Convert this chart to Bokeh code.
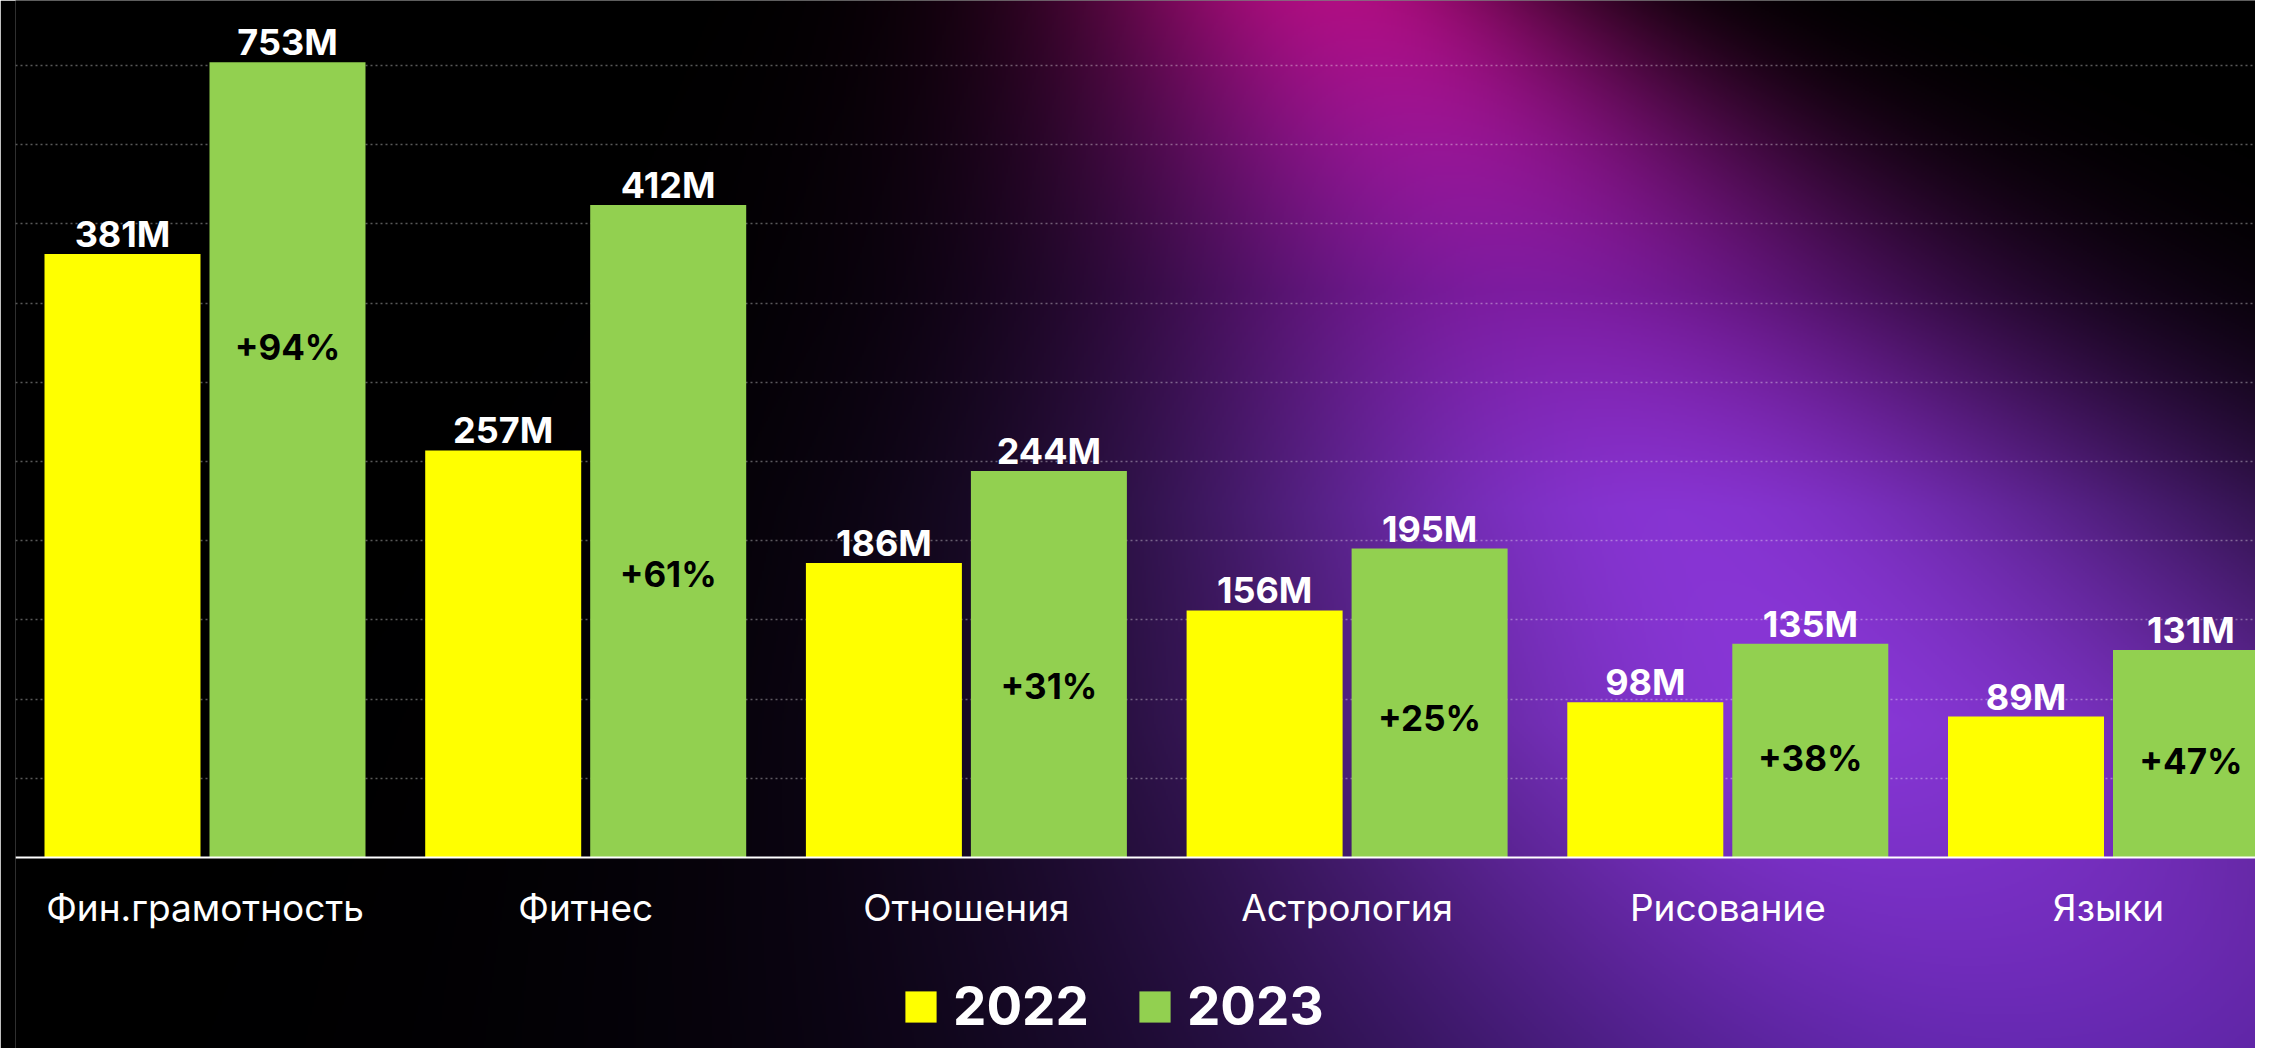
import numpy as np
from bokeh.plotting import figure
from bokeh.models import (ColumnDataSource, Range1d, LinearAxis, FixedTicker, Grid,
                          Legend, LegendItem)
from bokeh.transform import dodge
from bokeh.core.properties import value
from bokeh.embed import file_html
from bokeh.resources import INLINE

# ---------------- data ----------------
categories = ["Фин.грамотность", "Фитнес", "Отношения", "Астрология", "Рисование", "Языки"]
values_2022 = [381, 257, 186, 156, 98, 89]
values_2023 = [753, 412, 244, 195, 135, 131]
growth_pct = [94, 61, 31, 25, 38, 47]
series_names = ["2022", "2023"]
grid_ticks = [50, 100, 150, 200, 250, 300, 350, 400, 450, 500]

# ---------------- layout / style ----------------
FIG_W, FIG_H = 2255, 1048
FRAME_LEFT = 15          # px
BASELINE = 857           # px of value 0
PX_PER_UNIT = 1.584      # px per 1M
CAT_PITCH = 380.7        # px per category
FIRST_CENTER = 204.5     # px of first category centre
Y_CAP = 502              # axis top: taller bars are cut off here
OFF = 82.5 / CAT_PITCH
BAR_W = 156 / CAT_PITCH
YELLOW = "#FFFF00"
GREEN = "#92D050"
FONT = "Inter"

x_start = (FRAME_LEFT - FIRST_CENTER) / CAT_PITCH
x_end = (FIG_W - FIRST_CENTER) / CAT_PITCH
y_start = -(FIG_H - BASELINE) / PX_PER_UNIT
y_end = BASELINE / PX_PER_UNIT


def background(W, H):
    X = FRAME_LEFT + (np.arange(W) + 0.5) * ((FIG_W - FRAME_LEFT) / W)
    Y = FIG_H - (np.arange(H) + 0.5) * (FIG_H / H)   # row 0 = bottom
    XX, YY = np.meshgrid(X, Y)
    cx = 1340 + 0.65 * YY
    dx = XX - cx
    sl = 275 + 0.5 * YY
    sr = 250 + 0.7 * YY
    s = np.where(dx < 0, sl, sr)
    w = np.exp(-(dx / s) ** 2)
    ys = [0, 150, 290, 507, 724, 941, 1064]
    r = np.interp(YY, ys, [175, 150, 125, 135, 136, 115, 100])
    g = np.interp(YY, ys, [14, 22, 28, 52, 55, 45, 40])
    b = np.interp(YY, ys, [130, 150, 160, 210, 215, 190, 175])
    img = np.empty((H, W), dtype=np.uint32)
    view = img.view(dtype=np.uint8).reshape((H, W, 4))
    view[:, :, 0] = np.clip(r * w, 0, 255).astype(np.uint8)
    view[:, :, 1] = np.clip(g * w, 0, 255).astype(np.uint8)
    view[:, :, 2] = np.clip(b * w, 0, 255).astype(np.uint8)
    view[:, :, 3] = 255
    return img


idx = list(range(len(categories)))
src = ColumnDataSource(dict(
    x=idx,
    top22=np.minimum(values_2022, Y_CAP),
    top23=np.minimum(values_2023, Y_CAP),
    lab22=[f"{v}M" for v in values_2022],
    lab23=[f"{v}M" for v in values_2023],
    pct=[f"+{v}%" for v in growth_pct],
    pct_y=[0.42 * v + 6 for v in values_2023],
))

p = figure(width=FIG_W, height=FIG_H,
           x_range=Range1d(x_start, x_end), y_range=Range1d(y_start, y_end),
           output_backend="svg", toolbar_location=None,
           x_axis_location=None, y_axis_location=None,
           min_border_left=FRAME_LEFT, min_border_right=0,
           min_border_top=0, min_border_bottom=0,
           border_fill_color="black", background_fill_color="black",
           outline_line_color=None)
# drop default grids
p.center = [r for r in p.center if not isinstance(r, Grid)]

p.image_rgba(image=[background(1120, 524)], x=x_start, y=y_start,
             dw=x_end - x_start, dh=y_end - y_start, level="image")

grid = Grid(dimension=1, ticker=FixedTicker(ticks=grid_ticks),
            grid_line_color="white", grid_line_alpha=0.35,
            grid_line_dash="2 3", grid_line_width=1.5)
p.add_layout(grid)

r22 = p.vbar(x=dodge("x", -OFF), top="top22", width=BAR_W, source=src,
             fill_color=YELLOW, line_color=None)
r23 = p.vbar(x=dodge("x", OFF), top="top23", width=BAR_W, source=src,
             fill_color=GREEN, line_color=None)

for col, lab, dd in (("top22", "lab22", -OFF), ("top23", "lab23", OFF)):
    p.text(x=dodge("x", dd), y=col, text=lab, source=src,
           text_align="center", text_baseline="alphabetic", y_offset=-20,
           text_color="white", text_font=value(FONT), text_font_style="bold",
           text_font_size="36px")
p.text(x=dodge("x", OFF), y="pct_y", text="pct", source=src,
       text_align="center", text_baseline="middle",
       text_color="black", text_font=value(FONT), text_font_style="bold",
       text_font_size="35px")

xaxis = LinearAxis(fixed_location=0, ticker=FixedTicker(ticks=idx),
                   major_label_overrides={i: c for i, c in zip(idx, categories)},
                   axis_line_color="white", axis_line_width=2,
                   major_tick_line_color=None, minor_tick_line_color=None,
                   major_tick_out=0, major_tick_in=0,
                   major_label_text_color="white", major_label_text_font=FONT,
                   major_label_text_font_size="37px", major_label_standoff=27)
p.add_layout(xaxis, "below")

legend = Legend(items=[LegendItem(label=series_names[0], renderers=[r22]),
                       LegendItem(label=series_names[1], renderers=[r23])],
                orientation="horizontal", location=(886, 10),
                background_fill_alpha=0, border_line_color=None,
                label_text_color="white", label_text_font=FONT,
                label_text_font_size="53px", label_text_font_style="bold",
                glyph_width=39, glyph_height=39, label_standoff=13,
                spacing=46, padding=0, margin=0)
p.add_layout(legend)

open("out.html", "w").write(file_html(p, INLINE))
